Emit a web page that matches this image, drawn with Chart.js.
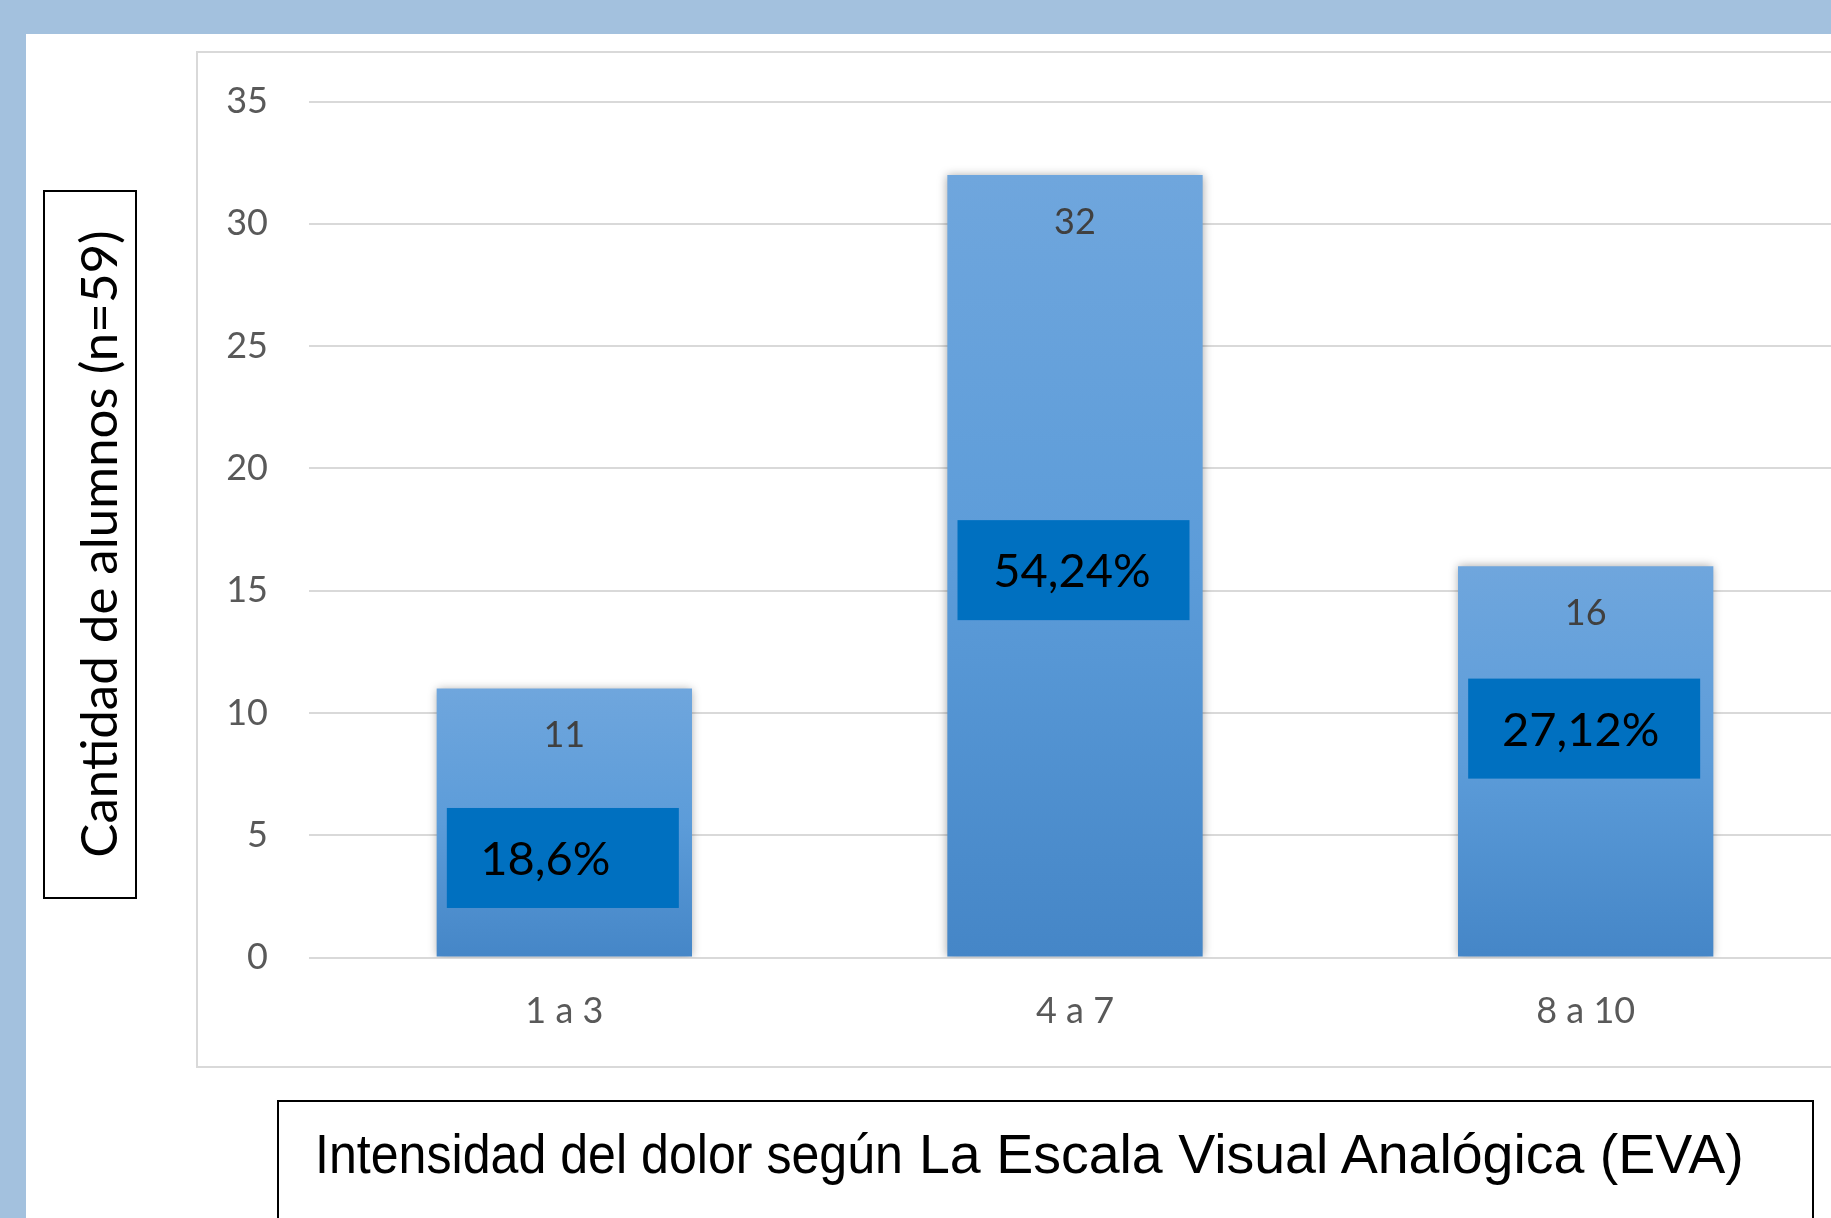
<!DOCTYPE html>
<html>
<head>
<meta charset="utf-8">
<script src="https://cdn.jsdelivr.net/npm/chart.js@4.4.0/dist/chart.umd.min.js"></script>
<style>
  body { margin: 0; width: 1831px; height: 1218px; overflow: hidden; background: #a3c1de; position: relative; font-family: Lato, sans-serif; }
  #panel { position: absolute; left: 26px; top: 34px; width: 1805px; height: 1184px; background: #fff; }
  #frame { position: absolute; left: 196px; top: 51px; width: 1700px; height: 1017px; border: 2px solid #d9d9d9; box-sizing: border-box; background: #fff; }
  #chartBox { position: absolute; left: 198px; top: 53px; line-height: 0; }
  #chartBox canvas { display: block; }
  #yTitle { position: absolute; left: 43px; top: 190px; width: 94px; height: 709px; border: 2px solid #000; box-sizing: border-box; }
  #yTitle span { position: absolute; left: 52px; top: 50%; transform: translate(-50%, -52%) rotate(-90deg); white-space: nowrap; font-size: 51px; line-height: 1; color: #000; }
  #xTitle { position: absolute; left: 277px; top: 1100px; width: 1537px; height: 140px; border: 2px solid #000; box-sizing: border-box; background: #fff; }
  .xt { position: absolute; top: 1126px; font-family: "Liberation Sans", Arial, sans-serif; line-height: 1; color: #000; white-space: nowrap; }
  #xt1 { left: 315px; font-size: 56px; transform: scaleX(0.895); transform-origin: left center; }
  #xt2 { left: 919px; font-size: 55.5px; top: 1126.5px; }
</style>
</head>
<body>
<div id="panel"></div>
<div id="frame"></div>
<div id="chartBox"><canvas id="barChart" width="1643" height="1013"></canvas></div>
<div id="yTitle"><span>Cantidad de alumnos (n=59)</span></div>
<div id="xTitle"></div>
<span class="xt" id="xt1">Intensidad del dolor según</span>
<span class="xt" id="xt2">La Escala Visual Analógica (EVA)</span>

<script>
/* Data */
const categories = ["1 a 3", "4 a 7", "8 a 10"];
const counts = [11, 32, 16];
const percentLabels = ["18,6%", "54,24%", "27,12%"];
const yTicks = [0, 5, 10, 15, 20, 25, 30, 35];

const ctx = document.getElementById("barChart").getContext("2d");

// vertical gradient per bar, light on top, darker at the base
function barGradient(context) {
  const chart = context.chart;
  const yScale = chart.scales.y;
  if (!chart.chartArea || !yScale || context.raw === undefined) return "#5b9bd5";
  const top = yScale.getPixelForValue(context.raw);
  const bottom = yScale.getPixelForValue(0);
  const g = chart.ctx.createLinearGradient(0, top, 0, bottom);
  g.addColorStop(0, "#6fa6dd");
  g.addColorStop(0.5, "#5c9cd9");
  g.addColorStop(1, "#4586c7");
  return g;
}

/* Shadow under the bars, then the value and percent labels */
const barDecor = {
  id: "barDecor",
  beforeDatasetsDraw(chart) {
    const c = chart.ctx;
    c.save();
    c.shadowColor = "rgba(0,0,0,0.35)";
    c.shadowBlur = 9;
  },
  afterDatasetsDraw(chart, args, opts) {
    const c = chart.ctx;
    c.restore();
    const yScale = chart.scales.y;
    const meta = chart.getDatasetMeta(0);
    meta.data.forEach((bar, i) => {
      c.save();
      c.textAlign = "center";
      c.textBaseline = "middle";
      c.fillStyle = "#404040";
      c.font = "36px Lato";
      c.fillText(String(counts[i]), bar.x, bar.y + 47);

      const cy = yScale.getPixelForValue(opts.boxCenters[i]);
      c.fillStyle = "#0070c0";
      c.fillRect(bar.x - 1.5 - opts.boxW / 2, cy - opts.boxH / 2, opts.boxW, opts.boxH);
      c.fillStyle = "#000";
      c.font = "47px Lato";
      c.fillText(percentLabels[i], bar.x + opts.textShift[i], cy + 2);
      c.restore();
    });
  }
};

const barChart = new Chart(ctx, {
  type: "bar",
  data: {
    labels: categories,
    datasets: [
      {
        data: counts,
        backgroundColor: barGradient,
        borderWidth: 0,
        barPercentage: 0.5,
        categoryPercentage: 1,
      },
    ],
  },
  options: {
    responsive: false,
    animation: false,
    layout: { padding: { top: 48.6, left: 0, right: 0, bottom: 0 } },
    plugins: {
      legend: { display: false },
      tooltip: { enabled: false },
      barDecor: { boxCenters: [4.07, 15.84, 9.36], boxW: 232, boxH: 100, textShift: [-19, -3, -5] },
    },
    scales: {
      x: {
        grid: { display: false },
        border: { display: false },
        ticks: { color: "#595959", font: { family: "Lato", size: 36 }, padding: 24 },
        afterFit: (scale) => { scale.height = 108.5; },
      },
      y: {
        min: 0,
        max: 35,
        border: { display: false },
        grid: { color: "#d9d9d9", lineWidth: 2, drawTicks: false },
        ticks: { color: "#595959", font: { family: "Lato", size: 36 }, padding: 41 },
        afterBuildTicks: (scale) => { scale.ticks = yTicks.map((v) => ({ value: v })); },
        afterFit: (scale) => {
          scale.width = 111;
          // tick padding is horizontal here; keep it out of the vertical layout
          scale.paddingTop = 0;
          scale.paddingBottom = 0;
        },
      },
    },
  },
  plugins: [barDecor],
});
</script>
</body>
</html>
